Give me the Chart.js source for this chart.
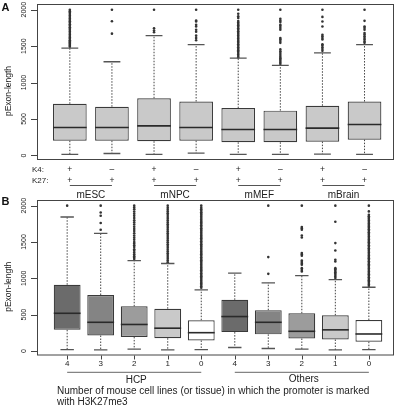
<!DOCTYPE html>
<html><head><meta charset="utf-8">
<script src="https://cdn.jsdelivr.net/npm/chart.js@4"></script>
<style>
html,body{margin:0;padding:0;background:#fff;width:400px;height:407px;overflow:hidden}
canvas{position:absolute;left:0}
#ca{top:0}
#cb{top:195px}
</style></head><body>
<canvas id="ca" width="400" height="200"></canvas>
<canvas id="cb" width="400" height="212"></canvas>
<script>
// ---------- Panel A data ----------
const groupsA = ['mESC', 'mNPC', 'mMEF', 'mBrain'];
const k4Signs = ['+', '\u2013', '+', '\u2013', '+', '\u2013', '+', '\u2013'];
const k27Signs = ['+', '+', '+', '+', '+', '+', '+', '+'];
const loA  = [14, 27, 14, 32, 14, 14, 19, 14];
const q1A  = [203, 203, 195, 203, 181, 181, 190, 217];
const medA = [384, 384, 406, 384, 357, 357, 375, 425];
const q3A  = [709, 669, 785, 740, 650, 615, 682, 740];
const hiA  = [1472, 1286, 1644, 1522, 1336, 1237, 1408, 1522];
const outA = [
  [1490,1505,1520,1535,1550,1565,1580,1600,1620,1640,1660,1680,1700,1720,1740,1760,1780,1800,1820,1840,1860,1880,1900,1920,1940,1960,1980,2000],
  [1671,1841,2000],
  [1690,1715,1745,2000],
  [1580,1611,1644,1698,1725,1770,1792,1837,1851,2000],
  [1345,1365,1385,1405,1425,1445,1465,1485,1505,1525,1545,1565,1585,1605,1625,1645,1665,1685,1705,1725,1745,1765,1785,1805,1825,1845,1885,1910,1945,2000],
  [1255,1275,1295,1315,1335,1355,1380,1405,1430,1455,1545,1570,1595,1612,1725,1750,1775,1792,1830,1850,1875,2000],
  [1435,1460,1485,1510,1525,1590,1610,1635,1657,1770,1837,1901,2000],
  [1545,1565,1590,1611,1635,1660,1680,1725,1750,1770,1847,2000]
];

// ---------- Panel B data ----------
const catsB = ['4', '3', '2', '1', '0', '4', '3', '2', '1', '0'];
const groupsB = ['HCP', 'Others'];
const loB  = [20, 16, 25, 16, 18, 48, 34, 27, 16, 18];
const q1B  = [291, 213, 194, 176, 145, 260, 229, 172, 158, 128];
const medB = [519, 395, 365, 314, 252, 474, 395, 271, 291, 234];
const q3B  = [912, 771, 615, 582, 424, 704, 562, 519, 491, 426];
const hiB  = [1844, 1618, 1245, 1204, 841, 1072, 938, 1036, 981, 877];
const outB = [
  [2000],
  [1669,1761,1862,1907,2000],
  [1265,1285,1305,1330,1355,1380,1400,1430,1455,1480,1500,1530,1560,1590,1620,1650,1680,1710,1740,1770,1800,1830,1860,1890,1920,1950,1975,2000],
  [1220,1245,1270,1295,1320,1345,1370,1395,1420,1445,1470,1495,1520,1545,1570,1595,1620,1645,1670,1695,1720,1745,1770,1795,1820,1845,1870,1895,1920,1945,1970,2000],
  [870,890,910,930,950,970,990,1010,1030,1050,1070,1090,1110,1130,1150,1170,1190,1210,1230,1250,1270,1290,1310,1330,1350,1370,1390,1410,1430,1450,1470,1490,1510,1530,1550,1570,1590,1610,1630,1650,1670,1690,1710,1730,1750,1770,1790,1810,1830,1850,1870,1890,1910,1930,1950,1970,2000],
  [],
  [1062,1292,2000],
  [1095,1115,1140,1186,1205,1225,1245,1310,1330,1347,1562,1590,1669,1690,1706,2000],
  [1005,1025,1045,1065,1085,1105,1125,1140,1232,1255,1383,1485,1779,2000],
  [895,915,935,955,975,995,1015,1035,1055,1075,1095,1115,1135,1155,1175,1195,1215,1235,1255,1275,1295,1315,1335,1355,1375,1395,1415,1435,1455,1475,1495,1515,1535,1555,1575,1595,1615,1635,1655,1675,1695,1715,1735,1755,1775,1795,1815,1835,1855,1875,1921,2000]
];

const yTicks = [0, 500, 1000, 1500, 2000];
const yTitle = 'pExon-length';
const captionB = ['Number of mouse cell lines (or tissue) in which the promoter is marked', 'with H3K27me3'];

// ---------- styles ----------
const FONT = "'Liberation Sans', Arial, Helvetica, sans-serif";
const colorsA = Array(8).fill('#c9c9c9');
const colorsB = ['#6b6b6b', '#848484', '#9c9c9c', '#c9c9c9', '#ffffff', '#6b6b6b', '#848484', '#9c9c9c', '#c9c9c9', '#ffffff'];

function boxPlugin(d) {
  return {
    id: 'boxExtras',
    afterDatasetsDraw(chart) {
      const ctx = chart.ctx, xs = chart.scales.x, ys = chart.scales.y;
      const unit = xs.getPixelForValue(2) - xs.getPixelForValue(1);
      const meta = chart.getDatasetMeta(0);
      ctx.save();
      for (let i = 0; i < d.med.length; i++) {
        const cx = xs.getPixelForValue(i + 1);
        const half = meta.data[i].width / 2;
        // whiskers (dashed)
        ctx.strokeStyle = '#444';
        ctx.lineWidth = 1;
        ctx.setLineDash([1.5, 1.5]);
        ctx.beginPath();
        ctx.moveTo(cx, ys.getPixelForValue(d.q3[i]));
        ctx.lineTo(cx, ys.getPixelForValue(d.hi[i]));
        ctx.moveTo(cx, ys.getPixelForValue(d.q1[i]));
        ctx.lineTo(cx, ys.getPixelForValue(d.lo[i]));
        ctx.stroke();
        ctx.setLineDash([]);
        // caps
        ctx.strokeStyle = '#555';
        ctx.lineWidth = 1.3;
        ctx.beginPath();
        const cw = unit * 0.2;
        ctx.moveTo(cx - cw, ys.getPixelForValue(d.hi[i]));
        ctx.lineTo(cx + cw, ys.getPixelForValue(d.hi[i]));
        ctx.moveTo(cx - cw, ys.getPixelForValue(d.lo[i]));
        ctx.lineTo(cx + cw, ys.getPixelForValue(d.lo[i]));
        ctx.stroke();
        // median
        ctx.strokeStyle = '#2a2a2a';
        ctx.lineWidth = 1.6;
        ctx.beginPath();
        const my = ys.getPixelForValue(d.med[i]);
        ctx.moveTo(cx - half, my);
        ctx.lineTo(cx + half, my);
        ctx.stroke();
      }
      ctx.restore();
    },
    afterDraw(chart) {
      const ctx = chart.ctx, xs = chart.scales.x, ys = chart.scales.y;
      const a = chart.chartArea;
      ctx.save();
      // frame
      ctx.strokeStyle = '#444';
      ctx.lineWidth = 1;
      ctx.strokeRect(a.left + 0.5, a.top + 0.5, a.right - a.left - 1, a.bottom - a.top - 1);
      // y ticks
      ctx.beginPath();
      yTicks.forEach(v => {
        const y = Math.round(ys.getPixelForValue(v)) + 0.5;
        ctx.moveTo(a.left - 6, y);
        ctx.lineTo(a.left, y);
      });
      ctx.stroke();
      ctx.fillStyle = '#222';
      ctx.font = '7px ' + FONT;
      ctx.textAlign = 'center';
      ctx.textBaseline = 'middle';
      yTicks.forEach(v => {
        const y = ys.getPixelForValue(v);
        ctx.save();
        ctx.translate(24.5, y);
        ctx.rotate(-Math.PI / 2);
        ctx.fillText(String(v), 0, 0);
        ctx.restore();
      });
      // y title
      ctx.font = '8.5px ' + FONT;
      ctx.save();
      ctx.translate(8.5, (a.top + a.bottom) / 2 + 9);
      ctx.rotate(-Math.PI / 2);
      ctx.fillText(yTitle, 0, 0);
      ctx.restore();
      // panel letter
      ctx.font = 'bold 11px ' + FONT;
      ctx.textAlign = 'left';
      ctx.textBaseline = 'alphabetic';
      ctx.fillStyle = '#111';
      ctx.fillText(d.letter, 1.5, d.letterY);
      d.drawBottom(ctx, xs, a);
      ctx.restore();
    }
  };
}

function makeChart(id, d) {
  const pts = [];
  d.out.forEach((arr, i) => arr.forEach(v => pts.push({ x: i + 1, y: v })));
  return new Chart(document.getElementById(id), {
    type: 'bar',
    data: {
      datasets: [
        {
          type: 'bar',
          data: d.med.map((m, i) => ({ x: i + 1, y: [d.q1[i], d.q3[i]] })),
          backgroundColor: d.colors,
          borderColor: '#3a3a3a',
          borderWidth: 1.2,
          borderSkipped: false,
          barPercentage: 0.8,
          categoryPercentage: 1
        },
        {
          type: 'scatter',
          data: pts,
          pointRadius: 1.3,
          pointBackgroundColor: '#333',
          pointBorderWidth: 0,
          showLine: false
        }
      ]
    },
    options: {
      responsive: false,
      animation: false,
      events: [],
      layout: { padding: d.padding },
      plugins: { legend: { display: false }, tooltip: { enabled: false } },
      scales: {
        x: {
          type: 'linear', display: false, offset: false, min: d.xmin, max: d.xmax,
          afterBuildTicks: s => { s.ticks = d.med.map((m, i) => ({ value: i + 1 })); }
        },
        y: { type: 'linear', display: false, min: -62, max: 2078 }
      }
    },
    plugins: [boxPlugin(d)]
  });
}

// Panel A
makeChart('ca', {
  letter: 'A', letterY: 10.5,
  lo: loA, q1: q1A, med: medA, q3: q3A, hi: hiA, out: outA, colors: colorsA,
  xmin: 0.22, xmax: 8.7,
  padding: { left: 37, right: 6, top: 2, bottom: 40 },
  drawBottom(ctx, xs, a) {
    ctx.fillStyle = '#222';
    ctx.font = '8px ' + FONT;
    ctx.textAlign = 'left';
    ctx.textBaseline = 'alphabetic';
    ctx.fillText('K4:', 32, 172.3);
    ctx.fillText('K27:', 32, 183.3);
    ctx.textAlign = 'center';
    ctx.textBaseline = 'middle';
    ctx.font = '8.5px ' + FONT;
    k4Signs.forEach((s, i) => ctx.fillText(s, xs.getPixelForValue(i + 1), 169.2));
    k27Signs.forEach((s, i) => ctx.fillText(s, xs.getPixelForValue(i + 1), 180.2));
    ctx.strokeStyle = '#555';
    ctx.lineWidth = 1;
    ctx.font = '10px ' + FONT;
    ctx.textBaseline = 'alphabetic';
    groupsA.forEach((g, k) => {
      const x1 = xs.getPixelForValue(2 * k + 1), x2 = xs.getPixelForValue(2 * k + 2);
      ctx.beginPath();
      ctx.moveTo(x1, 185.5);
      ctx.lineTo(x2, 185.5);
      ctx.stroke();
      ctx.fillText(g, (x1 + x2) / 2, 197.5);
    });
  }
});

// Panel B
makeChart('cb', {
  letter: 'B', letterY: 9.5,
  lo: loB, q1: q1B, med: medB, q3: q3B, hi: hiB, out: outB, colors: colorsB,
  xmin: 0.1, xmax: 10.75,
  padding: { left: 37, right: 6, top: 5, bottom: 51.5 },
  drawBottom(ctx, xs, a) {
    ctx.strokeStyle = '#444';
    ctx.lineWidth = 1;
    ctx.beginPath();
    catsB.forEach((c, i) => {
      const x = Math.round(xs.getPixelForValue(i + 1)) + 0.5;
      ctx.moveTo(x, a.bottom);
      ctx.lineTo(x, a.bottom + 4);
    });
    ctx.stroke();
    ctx.fillStyle = '#222';
    ctx.font = '8px ' + FONT;
    ctx.textAlign = 'center';
    ctx.textBaseline = 'alphabetic';
    catsB.forEach((c, i) => ctx.fillText(c, xs.getPixelForValue(i + 1), 171));
    ctx.strokeStyle = '#666';
    ctx.font = '10px ' + FONT;
    const gy = [188.3, 186.7];
    groupsB.forEach((g, k) => {
      const x1 = xs.getPixelForValue(5 * k + 1), x2 = xs.getPixelForValue(5 * k + 5);
      ctx.beginPath();
      ctx.moveTo(x1, 177.3);
      ctx.lineTo(x2, 177.3);
      ctx.stroke();
      ctx.fillText(g, (x1 + x2) / 2 + 2, gy[k]);
    });
    ctx.textAlign = 'left';
    ctx.fillText(captionB[0], 57, 199.3);
    ctx.fillText(captionB[1], 57, 210.3);
  }
});
</script>
</body></html>
